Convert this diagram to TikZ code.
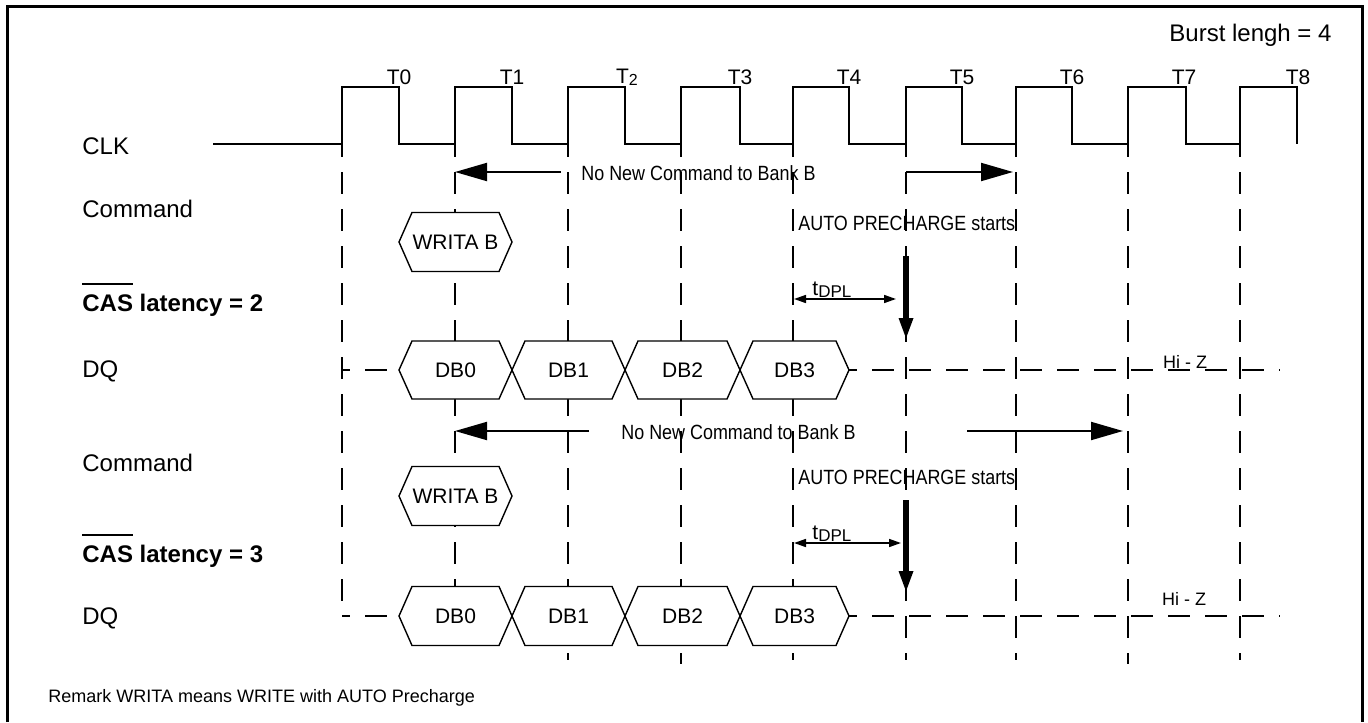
\documentclass[tikz,border=0pt]{standalone}
\usepackage{fontspec}
\setmainfont{Liberation Sans}
\newfontfamily\narrowfont[FakeStretch=0.87]{Liberation Sans}
\usetikzlibrary{arrows.meta}
\newcommand\hexcell[4]{\draw[hexline] (#1,#3) -- ({#1+13},{#3-#4}) -- ({#2-13},{#3-#4}) -- (#2,#3) -- ({#2-13},{#3+#4}) -- ({#1+13},{#3+#4}) -- cycle;}
\newcommand\casbar{\vbox{\hrule height 1pt\kern 4.5pt\hbox{CAS}}}
\begin{document}
\begin{tikzpicture}[x=0.5pt,y=-0.5pt,
  clk/.style={line width=1.25pt, line join=miter},
  gridline/.style={line width=1pt, dash pattern=on 11pt off 7.5pt, dash phase=4.5pt},
  dqline/.style={line width=1pt, dash pattern=on 11pt off 7.5pt, dash phase=7pt},
  hexline/.style={line width=0.7pt, fill=white},
  lbl/.style={font=\fontsize{12}{14}\selectfont, inner sep=0pt, anchor=base west},
  tlbl/.style={font=\fontsize{10.5}{12}\selectfont, inner sep=0pt},
  cell/.style={font=\fontsize{10.5}{12}\selectfont, inner sep=0pt},
  note/.style={font=\narrowfont\fontsize{10.3}{12}\selectfont, inner sep=0pt, anchor=west},
  hiz/.style={font=\fontsize{9}{11}\selectfont, inner sep=0pt},
  bigarrow/.style={line width=1pt, -{Triangle[length=16pt,width=9pt]}},
  pcarrow/.style={line width=3.2pt, -{Triangle[length=11pt,width=6.5pt]}},
  dimarrow/.style={line width=0.8pt, {Triangle[length=6pt,width=4pt]}-{Triangle[length=6pt,width=4pt]}},
]
\useasboundingbox (0,0) rectangle (1368,722);
% frame
\draw[line width=1.65pt] (7.4,722) -- (7.4,6.7) -- (1362.5,6.7) -- (1362.5,722);

% header
\node[lbl] (burst) at (1169,41.6) {Burst lengh = 4};
\node[tlbl] (t0) at (399,77) {T0};
\node[tlbl] (t1) at (512,77) {T1};
\node[tlbl] (t2) at (627,77) {T\raisebox{-1pt}{\fontsize{8}{8}\selectfont 2}};
\node[tlbl] (t3) at (740,77) {T3};
\node[tlbl] (t4) at (849,77) {T4};
\node[tlbl] (t5) at (962,77) {T5};
\node[tlbl] (t6) at (1072,77) {T6};
\node[tlbl] (t7) at (1184,77) {T7};
\node[tlbl] (t8) at (1298,77) {T8};

% clock
\draw[clk] (213,144) foreach \r/\f in {342/399,455/512,568/625,681/740,793/849,906/962,1016/1072,1128/1186,1240/1297} { -- (\r,144) -- (\r,87) -- (\f,87) -- (\f,144) };

% grid lines
\foreach \x/\e in {342/612,455/612,568/660,681/664,793/660,906/660,1016/660,1128/664,1240/660}
  \draw[gridline] (\x,144) -- (\x,\e);

% left labels
\node[lbl] (clk) at (82,154.6) {CLK};
\node[lbl] (cmd1) at (82,217) {Command};
\node[lbl, font=\fontsize{12}{14}\selectfont\bfseries] (cas2) at (82,311) {\casbar\ latency = 2};
\node[lbl] (dq1) at (82,377.5) {DQ};
\node[lbl] (cmd2) at (82,471) {Command};
\node[lbl, font=\fontsize{12}{14}\selectfont\bfseries] (cas3) at (82,562) {\casbar\ latency = 3};
\node[lbl] (dq2) at (82,624.5) {DQ};

% ---------- block 1 ----------
\coordinate (a1s) at (561,172); \coordinate (a1e) at (455,172);
\draw[bigarrow] (a1s) -- (a1e);
\node[note] (nn1) at (581,173) {No New Command to Bank B};
\coordinate (b1s) at (906,172); \coordinate (b1e) at (1013,172);
\draw[bigarrow] (b1s) -- (b1e);

\hexcell{399}{512}{242}{29.5}
\node[cell] (wr1) at (455.5,242) {WRITA B};

\node[note] (ap1) at (798,223) {AUTO PRECHARGE starts};
\coordinate (p1s) at (906,256); \coordinate (p1e) at (906,340);
\draw[pcarrow] (p1s) -- (p1e);
\coordinate (d1s) at (794,299); \coordinate (d1e) at (896,299);
\draw[dimarrow] (d1s) -- (d1e);
\node[inner sep=0pt, anchor=base west, font=\fontsize{10.5}{12}\selectfont] (tdpl1) at (812,295) {t\raisebox{-1pt}{\fontsize{8.5}{9}\selectfont DPL}};

\draw[dqline] (342,370) -- (399,370);
\draw[dqline] (849,370) -- (1280,370);
\hexcell{399}{512}{370}{29}
\hexcell{512}{625}{370}{29}
\hexcell{625}{740}{370}{29}
\hexcell{740}{849}{370}{29}
\node[cell] (db10) at (455.5,370) {DB0};
\node[cell] (db11) at (568.5,370) {DB1};
\node[cell] (db12) at (682.5,370) {DB2};
\node[cell] (db13) at (794.5,370) {DB3};
\node[hiz] (hz1) at (1185,362) {Hi - Z};

% ---------- block 2 ----------
\coordinate (a2s) at (589,431); \coordinate (a2e) at (455,431);
\draw[bigarrow] (a2s) -- (a2e);
\node[note] (nn2) at (621,432) {No New Command to Bank B};
\coordinate (b2s) at (967,431); \coordinate (b2e) at (1123,431);
\draw[bigarrow] (b2s) -- (b2e);

\hexcell{399}{512}{496}{29.5}
\node[cell] (wr2) at (455.5,496) {WRITA B};

\node[note] (ap2) at (798,477) {AUTO PRECHARGE starts};
\coordinate (p2s) at (906,500); \coordinate (p2e) at (906,593);
\draw[pcarrow] (p2s) -- (p2e);
\coordinate (d2s) at (794,543); \coordinate (d2e) at (901,543);
\draw[dimarrow] (d2s) -- (d2e);
\node[inner sep=0pt, anchor=base west, font=\fontsize{10.5}{12}\selectfont] (tdpl2) at (812,539) {t\raisebox{-1pt}{\fontsize{8.5}{9}\selectfont DPL}};

\draw[dqline] (342,616) -- (399,616);
\draw[dqline] (849,616) -- (1280,616);
\hexcell{399}{512}{616}{29.5}
\hexcell{512}{625}{616}{29.5}
\hexcell{625}{740}{616}{29.5}
\hexcell{740}{849}{616}{29.5}
\node[cell] (db20) at (455.5,616) {DB0};
\node[cell] (db21) at (568.5,616) {DB1};
\node[cell] (db22) at (682.5,616) {DB2};
\node[cell] (db23) at (794.5,616) {DB3};
\node[hiz] (hz2) at (1184,599) {Hi - Z};

% remark
\node[inner sep=0pt, anchor=base west, font=\fontsize{9}{11}\selectfont] (remark) at (48,702) {Remark WRITA means WRITE with AUTO Precharge};
\end{tikzpicture}
\end{document}
